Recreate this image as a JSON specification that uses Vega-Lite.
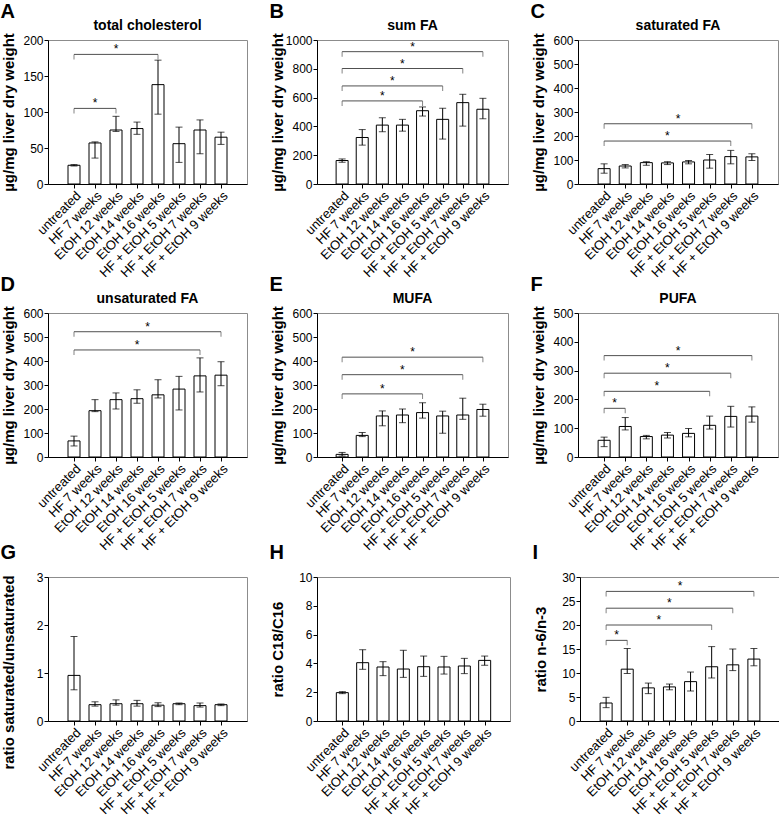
{
"$schema": "https://vega.github.io/schema/vega-lite/v6.json",
"padding": {"left": 0, "top": 2, "right": 0, "bottom": 0},
"background": "white",
"datasets": {
"bars": [
{"p":"A","i":0,"v":26,"lo":25,"hi":27},{"p":"A","i":1,"v":57,"lo":36,"hi":58.5},{"p":"A","i":2,"v":75,"lo":73,"hi":94},{"p":"A","i":3,"v":77,"lo":69,"hi":86},{"p":"A","i":4,"v":138,"lo":97,"hi":172},{"p":"A","i":5,"v":56,"lo":30,"hi":79},{"p":"A","i":6,"v":75,"lo":42,"hi":89},{"p":"A","i":7,"v":65,"lo":55,"hi":72},
{"p":"B","i":0,"v":163,"lo":151,"hi":174},{"p":"B","i":1,"v":323,"lo":270,"hi":378},{"p":"B","i":2,"v":409,"lo":363,"hi":460},{"p":"B","i":3,"v":409,"lo":367,"hi":449},{"p":"B","i":4,"v":509,"lo":472,"hi":535},{"p":"B","i":5,"v":449,"lo":312,"hi":526},{"p":"B","i":6,"v":565,"lo":402,"hi":623},{"p":"B","i":7,"v":519,"lo":453,"hi":595},
{"p":"C","i":0,"v":64,"lo":45,"hi":84},{"p":"C","i":1,"v":75,"lo":67,"hi":81},{"p":"C","i":2,"v":89,"lo":78,"hi":93},{"p":"C","i":3,"v":88,"lo":81,"hi":93},{"p":"C","i":4,"v":92,"lo":84,"hi":98},{"p":"C","i":5,"v":100,"lo":66,"hi":123},{"p":"C","i":6,"v":114,"lo":84,"hi":140},{"p":"C","i":7,"v":113,"lo":98,"hi":126},
{"p":"D","i":0,"v":67,"lo":46,"hi":87},{"p":"D","i":1,"v":193,"lo":189,"hi":239},{"p":"D","i":2,"v":239,"lo":200,"hi":267},{"p":"D","i":3,"v":243,"lo":224,"hi":280},{"p":"D","i":4,"v":259,"lo":246,"hi":322},{"p":"D","i":5,"v":283,"lo":196,"hi":336},{"p":"D","i":6,"v":338,"lo":271,"hi":413},{"p":"D","i":7,"v":341,"lo":297,"hi":397},
{"p":"E","i":0,"v":11,"lo":4,"hi":19},{"p":"E","i":1,"v":90,"lo":85,"hi":102},{"p":"E","i":2,"v":171,"lo":130,"hi":192},{"p":"E","i":3,"v":175,"lo":143,"hi":200},{"p":"E","i":4,"v":185,"lo":162,"hi":226},{"p":"E","i":5,"v":171,"lo":99,"hi":191},{"p":"E","i":6,"v":175,"lo":157,"hi":245},{"p":"E","i":7,"v":198,"lo":170,"hi":220},
{"p":"F","i":0,"v":58,"lo":36,"hi":69},{"p":"F","i":1,"v":106,"lo":94,"hi":137},{"p":"F","i":2,"v":71,"lo":63,"hi":75},{"p":"F","i":3,"v":76,"lo":66,"hi":85},{"p":"F","i":4,"v":82,"lo":70,"hi":99},{"p":"F","i":5,"v":110,"lo":97,"hi":142},{"p":"F","i":6,"v":141,"lo":104,"hi":176},{"p":"F","i":7,"v":142,"lo":121,"hi":174},
{"p":"G","i":0,"v":0.95,"lo":0.65,"hi":1.76},{"p":"G","i":1,"v":0.34,"lo":0.31,"hi":0.4},{"p":"G","i":2,"v":0.36,"lo":0.33,"hi":0.44},{"p":"G","i":3,"v":0.36,"lo":0.31,"hi":0.43},{"p":"G","i":4,"v":0.33,"lo":0.3,"hi":0.38},{"p":"G","i":5,"v":0.36,"lo":0.34,"hi":0.375},{"p":"G","i":6,"v":0.32,"lo":0.29,"hi":0.375},{"p":"G","i":7,"v":0.34,"lo":0.32,"hi":0.355},
{"p":"H","i":0,"v":1.97,"lo":1.9,"hi":2.04},{"p":"H","i":1,"v":4.05,"lo":3.59,"hi":4.95},{"p":"H","i":2,"v":3.75,"lo":3.15,"hi":4.12},{"p":"H","i":3,"v":3.61,"lo":3.03,"hi":4.91},{"p":"H","i":4,"v":3.77,"lo":3.1,"hi":4.51},{"p":"H","i":5,"v":3.75,"lo":3.26,"hi":4.49},{"p":"H","i":6,"v":3.82,"lo":3.29,"hi":4.35},{"p":"H","i":7,"v":4.21,"lo":3.87,"hi":4.51},
{"p":"I","i":0,"v":3.75,"lo":2.78,"hi":4.93},{"p":"I","i":1,"v":10.8,"lo":9.9,"hi":15.1},{"p":"I","i":2,"v":6.9,"lo":5.7,"hi":7.9},{"p":"I","i":3,"v":7.1,"lo":6.5,"hi":7.7},{"p":"I","i":4,"v":8.2,"lo":6.25,"hi":10.2},{"p":"I","i":5,"v":11.3,"lo":8.96,"hi":15.5},{"p":"I","i":6,"v":11.7,"lo":10.5,"hi":15.0},{"p":"I","i":7,"v":12.9,"lo":11.5,"hi":15.1}
],
"brk": [
{"p":"A","a":0,"b":2,"v":105},{"p":"A","a":0,"b":4,"v":180},
{"p":"B","a":0,"b":4,"v":577},{"p":"B","a":0,"b":5,"v":681},{"p":"B","a":0,"b":6,"v":802},{"p":"B","a":0,"b":7,"v":919},
{"p":"C","a":0,"b":6,"v":179},{"p":"C","a":0,"b":7,"v":251},
{"p":"D","a":0,"b":6,"v":446},{"p":"D","a":0,"b":7,"v":522},
{"p":"E","a":0,"b":4,"v":263},{"p":"E","a":0,"b":6,"v":343},{"p":"E","a":0,"b":7,"v":416},
{"p":"F","a":0,"b":1,"v":169},{"p":"F","a":0,"b":5,"v":228},{"p":"F","a":0,"b":6,"v":291},{"p":"F","a":0,"b":7,"v":352},
{"p":"I","a":0,"b":1,"v":16.8},{"p":"I","a":0,"b":5,"v":20.0},{"p":"I","a":0,"b":6,"v":23.5},{"p":"I","a":0,"b":7,"v":27.0}
]
},
"vconcat": [
{"spacing": 21, "hconcat": [
{"title":{"text":"A"},"vconcat":[{"width":199,"height":144,"title":{"text":"total cholesterol","anchor":"middle","frame":"group","fontSize":14,"offset":0},
"encoding":{"x":{"field":"i","type":"quantitative","scale":{"domain":[-1,8],"nice":false,"zero":false},"axis":{"values":[0,1,2,3,4,5,6,7],"labelExpr":"['untreated','HF 7 weeks','EtOH 12 weeks','EtOH 14 weeks','EtOH 16 weeks','HF + EtOH 5 weeks','HF + EtOH 7 weeks','HF + EtOH 9 weeks'][datum.value]","title":null}},"y":{"field":"v","type":"quantitative","scale":{"domain":[0,200],"nice":false},"axis":{"values":[0,50,100,150,200],"title":"µg/mg liver dry weight"}}},
"layer":[
{"data":{"name":"bars"},"transform":[{"filter":"datum.p==='A'"}],"mark":{"type":"bar","orient":"vertical","width":12,"fill":"white","stroke":"black","strokeWidth":1}},
{"data":{"name":"bars"},"transform":[{"filter":"datum.p==='A'"},{"fold":["lo","hi"],"as":["k","v"]}],"mark":{"type":"line","color":"black","strokeWidth":1},"encoding":{"detail":{"field":"i","type":"nominal"}}},
{"data":{"name":"bars"},"transform":[{"filter":"datum.p==='A'"},{"fold":["lo","hi"],"as":["k","v"]}],"mark":{"type":"tick","orient":"horizontal","size":7,"thickness":1,"color":"black"}},
{"data":{"name":"brk"},"transform":[{"filter":"datum.p==='A'"},{"fold":["a","b"],"as":["k","i"]}],"mark":{"type":"line","color":"#505050","strokeWidth":1},"encoding":{"detail":{"field":"b","type":"nominal"}}},
{"data":{"name":"brk"},"transform":[{"filter":"datum.p==='A'"},{"fold":["a","b"],"as":["k","i"]}],"mark":{"type":"tick","orient":"vertical","size":5,"thickness":1,"color":"#505050","yOffset":2.5}},
{"data":{"name":"brk"},"transform":[{"filter":"datum.p==='A'"},{"calculate":"(datum.a+datum.b)/2","as":"i"}],"mark":{"type":"text","text":"*","fontSize":12,"dy":-1,"baseline":"alphabetic","color":"black"}}
]}]},
{"title":{"text":"B"},"vconcat":[{"width":191,"height":144,"title":{"text":"sum FA","anchor":"middle","frame":"group","fontSize":14,"offset":0},
"encoding":{"x":{"field":"i","type":"quantitative","scale":{"domain":[-1,8],"nice":false,"zero":false},"axis":{"values":[0,1,2,3,4,5,6,7],"labelExpr":"['untreated','HF 7 weeks','EtOH 12 weeks','EtOH 14 weeks','EtOH 16 weeks','HF + EtOH 5 weeks','HF + EtOH 7 weeks','HF + EtOH 9 weeks'][datum.value]","title":null}},"y":{"field":"v","type":"quantitative","scale":{"domain":[0,1000],"nice":false},"axis":{"values":[0,200,400,600,800,1000],"format":"d","title":"µg/mg liver dry weight"}}},
"layer":[
{"data":{"name":"bars"},"transform":[{"filter":"datum.p==='B'"}],"mark":{"type":"bar","orient":"vertical","width":12,"fill":"white","stroke":"black","strokeWidth":1}},
{"data":{"name":"bars"},"transform":[{"filter":"datum.p==='B'"},{"fold":["lo","hi"],"as":["k","v"]}],"mark":{"type":"line","color":"black","strokeWidth":1},"encoding":{"detail":{"field":"i","type":"nominal"}}},
{"data":{"name":"bars"},"transform":[{"filter":"datum.p==='B'"},{"fold":["lo","hi"],"as":["k","v"]}],"mark":{"type":"tick","orient":"horizontal","size":7,"thickness":1,"color":"black"}},
{"data":{"name":"brk"},"transform":[{"filter":"datum.p==='B'"},{"fold":["a","b"],"as":["k","i"]}],"mark":{"type":"line","color":"#505050","strokeWidth":1},"encoding":{"detail":{"field":"b","type":"nominal"}}},
{"data":{"name":"brk"},"transform":[{"filter":"datum.p==='B'"},{"fold":["a","b"],"as":["k","i"]}],"mark":{"type":"tick","orient":"vertical","size":5,"thickness":1,"color":"#505050","yOffset":2.5}},
{"data":{"name":"brk"},"transform":[{"filter":"datum.p==='B'"},{"calculate":"(datum.a+datum.b)/2","as":"i"}],"mark":{"type":"text","text":"*","fontSize":12,"dy":-1,"baseline":"alphabetic","color":"black"}}
]}]},
{"title":{"text":"C"},"vconcat":[{"width":200,"height":144,"title":{"text":"saturated FA","anchor":"middle","frame":"group","fontSize":14,"offset":0},
"encoding":{"x":{"field":"i","type":"quantitative","scale":{"domain":[-1,8],"nice":false,"zero":false},"axis":{"values":[0,1,2,3,4,5,6,7],"labelExpr":"['untreated','HF 7 weeks','EtOH 12 weeks','EtOH 14 weeks','EtOH 16 weeks','HF + EtOH 5 weeks','HF + EtOH 7 weeks','HF + EtOH 9 weeks'][datum.value]","title":null}},"y":{"field":"v","type":"quantitative","scale":{"domain":[0,600],"nice":false},"axis":{"values":[0,100,200,300,400,500,600],"title":"µg/mg liver dry weight"}}},
"layer":[
{"data":{"name":"bars"},"transform":[{"filter":"datum.p==='C'"}],"mark":{"type":"bar","orient":"vertical","width":12,"fill":"white","stroke":"black","strokeWidth":1}},
{"data":{"name":"bars"},"transform":[{"filter":"datum.p==='C'"},{"fold":["lo","hi"],"as":["k","v"]}],"mark":{"type":"line","color":"black","strokeWidth":1},"encoding":{"detail":{"field":"i","type":"nominal"}}},
{"data":{"name":"bars"},"transform":[{"filter":"datum.p==='C'"},{"fold":["lo","hi"],"as":["k","v"]}],"mark":{"type":"tick","orient":"horizontal","size":7,"thickness":1,"color":"black"}},
{"data":{"name":"brk"},"transform":[{"filter":"datum.p==='C'"},{"fold":["a","b"],"as":["k","i"]}],"mark":{"type":"line","color":"#505050","strokeWidth":1},"encoding":{"detail":{"field":"b","type":"nominal"}}},
{"data":{"name":"brk"},"transform":[{"filter":"datum.p==='C'"},{"fold":["a","b"],"as":["k","i"]}],"mark":{"type":"tick","orient":"vertical","size":5,"thickness":1,"color":"#505050","yOffset":2.5}},
{"data":{"name":"brk"},"transform":[{"filter":"datum.p==='C'"},{"calculate":"(datum.a+datum.b)/2","as":"i"}],"mark":{"type":"text","text":"*","fontSize":12,"dy":-1,"baseline":"alphabetic","color":"black"}}
]}]}
]},
{"spacing": -12, "vconcat": [
{"spacing": 21, "hconcat": [
{"title":{"text":"D"},"vconcat":[{"width":199,"height":144,"title":{"text":"unsaturated FA","anchor":"middle","frame":"group","fontSize":14,"offset":0},
"encoding":{"x":{"field":"i","type":"quantitative","scale":{"domain":[-1,8],"nice":false,"zero":false},"axis":{"values":[0,1,2,3,4,5,6,7],"labelExpr":"['untreated','HF 7 weeks','EtOH 12 weeks','EtOH 14 weeks','EtOH 16 weeks','HF + EtOH 5 weeks','HF + EtOH 7 weeks','HF + EtOH 9 weeks'][datum.value]","title":null}},"y":{"field":"v","type":"quantitative","scale":{"domain":[0,600],"nice":false},"axis":{"values":[0,100,200,300,400,500,600],"title":"µg/mg liver dry weight"}}},
"layer":[
{"data":{"name":"bars"},"transform":[{"filter":"datum.p==='D'"}],"mark":{"type":"bar","orient":"vertical","width":12,"fill":"white","stroke":"black","strokeWidth":1}},
{"data":{"name":"bars"},"transform":[{"filter":"datum.p==='D'"},{"fold":["lo","hi"],"as":["k","v"]}],"mark":{"type":"line","color":"black","strokeWidth":1},"encoding":{"detail":{"field":"i","type":"nominal"}}},
{"data":{"name":"bars"},"transform":[{"filter":"datum.p==='D'"},{"fold":["lo","hi"],"as":["k","v"]}],"mark":{"type":"tick","orient":"horizontal","size":7,"thickness":1,"color":"black"}},
{"data":{"name":"brk"},"transform":[{"filter":"datum.p==='D'"},{"fold":["a","b"],"as":["k","i"]}],"mark":{"type":"line","color":"#505050","strokeWidth":1},"encoding":{"detail":{"field":"b","type":"nominal"}}},
{"data":{"name":"brk"},"transform":[{"filter":"datum.p==='D'"},{"fold":["a","b"],"as":["k","i"]}],"mark":{"type":"tick","orient":"vertical","size":5,"thickness":1,"color":"#505050","yOffset":2.5}},
{"data":{"name":"brk"},"transform":[{"filter":"datum.p==='D'"},{"calculate":"(datum.a+datum.b)/2","as":"i"}],"mark":{"type":"text","text":"*","fontSize":12,"dy":-1,"baseline":"alphabetic","color":"black"}}
]}]},
{"title":{"text":"E"},"vconcat":[{"width":191,"height":144,"title":{"text":"MUFA","anchor":"middle","frame":"group","fontSize":14,"offset":0},
"encoding":{"x":{"field":"i","type":"quantitative","scale":{"domain":[-1,8],"nice":false,"zero":false},"axis":{"values":[0,1,2,3,4,5,6,7],"labelExpr":"['untreated','HF 7 weeks','EtOH 12 weeks','EtOH 14 weeks','EtOH 16 weeks','HF + EtOH 5 weeks','HF + EtOH 7 weeks','HF + EtOH 9 weeks'][datum.value]","title":null}},"y":{"field":"v","type":"quantitative","scale":{"domain":[0,600],"nice":false},"axis":{"values":[0,100,200,300,400,500,600],"title":"µg/mg liver dry weight"}}},
"layer":[
{"data":{"name":"bars"},"transform":[{"filter":"datum.p==='E'"}],"mark":{"type":"bar","orient":"vertical","width":12,"fill":"white","stroke":"black","strokeWidth":1}},
{"data":{"name":"bars"},"transform":[{"filter":"datum.p==='E'"},{"fold":["lo","hi"],"as":["k","v"]}],"mark":{"type":"line","color":"black","strokeWidth":1},"encoding":{"detail":{"field":"i","type":"nominal"}}},
{"data":{"name":"bars"},"transform":[{"filter":"datum.p==='E'"},{"fold":["lo","hi"],"as":["k","v"]}],"mark":{"type":"tick","orient":"horizontal","size":7,"thickness":1,"color":"black"}},
{"data":{"name":"brk"},"transform":[{"filter":"datum.p==='E'"},{"fold":["a","b"],"as":["k","i"]}],"mark":{"type":"line","color":"#505050","strokeWidth":1},"encoding":{"detail":{"field":"b","type":"nominal"}}},
{"data":{"name":"brk"},"transform":[{"filter":"datum.p==='E'"},{"fold":["a","b"],"as":["k","i"]}],"mark":{"type":"tick","orient":"vertical","size":5,"thickness":1,"color":"#505050","yOffset":2.5}},
{"data":{"name":"brk"},"transform":[{"filter":"datum.p==='E'"},{"calculate":"(datum.a+datum.b)/2","as":"i"}],"mark":{"type":"text","text":"*","fontSize":12,"dy":-1,"baseline":"alphabetic","color":"black"}}
]}]},
{"title":{"text":"F"},"vconcat":[{"width":200,"height":144,"title":{"text":"PUFA","anchor":"middle","frame":"group","fontSize":14,"offset":0},
"encoding":{"x":{"field":"i","type":"quantitative","scale":{"domain":[-1,8],"nice":false,"zero":false},"axis":{"values":[0,1,2,3,4,5,6,7],"labelExpr":"['untreated','HF 7 weeks','EtOH 12 weeks','EtOH 14 weeks','EtOH 16 weeks','HF + EtOH 5 weeks','HF + EtOH 7 weeks','HF + EtOH 9 weeks'][datum.value]","title":null}},"y":{"field":"v","type":"quantitative","scale":{"domain":[0,500],"nice":false},"axis":{"values":[0,100,200,300,400,500],"title":"µg/mg liver dry weight"}}},
"layer":[
{"data":{"name":"bars"},"transform":[{"filter":"datum.p==='F'"}],"mark":{"type":"bar","orient":"vertical","width":12,"fill":"white","stroke":"black","strokeWidth":1}},
{"data":{"name":"bars"},"transform":[{"filter":"datum.p==='F'"},{"fold":["lo","hi"],"as":["k","v"]}],"mark":{"type":"line","color":"black","strokeWidth":1},"encoding":{"detail":{"field":"i","type":"nominal"}}},
{"data":{"name":"bars"},"transform":[{"filter":"datum.p==='F'"},{"fold":["lo","hi"],"as":["k","v"]}],"mark":{"type":"tick","orient":"horizontal","size":7,"thickness":1,"color":"black"}},
{"data":{"name":"brk"},"transform":[{"filter":"datum.p==='F'"},{"fold":["a","b"],"as":["k","i"]}],"mark":{"type":"line","color":"#505050","strokeWidth":1},"encoding":{"detail":{"field":"b","type":"nominal"}}},
{"data":{"name":"brk"},"transform":[{"filter":"datum.p==='F'"},{"fold":["a","b"],"as":["k","i"]}],"mark":{"type":"tick","orient":"vertical","size":5,"thickness":1,"color":"#505050","yOffset":2.5}},
{"data":{"name":"brk"},"transform":[{"filter":"datum.p==='F'"},{"calculate":"(datum.a+datum.b)/2","as":"i"}],"mark":{"type":"text","text":"*","fontSize":12,"dy":-1,"baseline":"alphabetic","color":"black"}}
]}]}
]},
{"spacing": 21, "hconcat": [
{"title":{"text":"G","offset":8},"vconcat":[{"width":199,"height":144,
"encoding":{"x":{"field":"i","type":"quantitative","scale":{"domain":[-1,8],"nice":false,"zero":false},"axis":{"values":[0,1,2,3,4,5,6,7],"labelExpr":"['untreated','HF 7 weeks','EtOH 12 weeks','EtOH 14 weeks','EtOH 16 weeks','HF + EtOH 5 weeks','HF + EtOH 7 weeks','HF + EtOH 9 weeks'][datum.value]","title":null}},"y":{"field":"v","type":"quantitative","scale":{"domain":[0,3],"nice":false},"axis":{"values":[0,1,2,3],"title":"ratio saturated/unsaturated","titleY":95}}},
"layer":[
{"data":{"name":"bars"},"transform":[{"filter":"datum.p==='G'"}],"mark":{"type":"bar","orient":"vertical","width":12,"fill":"white","stroke":"black","strokeWidth":1}},
{"data":{"name":"bars"},"transform":[{"filter":"datum.p==='G'"},{"fold":["lo","hi"],"as":["k","v"]}],"mark":{"type":"line","color":"black","strokeWidth":1},"encoding":{"detail":{"field":"i","type":"nominal"}}},
{"data":{"name":"bars"},"transform":[{"filter":"datum.p==='G'"},{"fold":["lo","hi"],"as":["k","v"]}],"mark":{"type":"tick","orient":"horizontal","size":7,"thickness":1,"color":"black"}}
]}]},
{"title":{"text":"H","offset":8},"vconcat":[{"width":193,"height":144,
"encoding":{"x":{"field":"i","type":"quantitative","scale":{"domain":[-1,8],"nice":false,"zero":false},"axis":{"values":[0,1,2,3,4,5,6,7],"labelExpr":"['untreated','HF 7 weeks','EtOH 12 weeks','EtOH 14 weeks','EtOH 16 weeks','HF + EtOH 5 weeks','HF + EtOH 7 weeks','HF + EtOH 9 weeks'][datum.value]","title":null}},"y":{"field":"v","type":"quantitative","scale":{"domain":[0,10],"nice":false},"axis":{"values":[0,2,4,6,8,10],"title":"ratio C18/C16"}}},
"layer":[
{"data":{"name":"bars"},"transform":[{"filter":"datum.p==='H'"}],"mark":{"type":"bar","orient":"vertical","width":12,"fill":"white","stroke":"black","strokeWidth":1}},
{"data":{"name":"bars"},"transform":[{"filter":"datum.p==='H'"},{"fold":["lo","hi"],"as":["k","v"]}],"mark":{"type":"line","color":"black","strokeWidth":1},"encoding":{"detail":{"field":"i","type":"nominal"}}},
{"data":{"name":"bars"},"transform":[{"filter":"datum.p==='H'"},{"fold":["lo","hi"],"as":["k","v"]}],"mark":{"type":"tick","orient":"horizontal","size":7,"thickness":1,"color":"black"}}
]}]},
{"title":{"text":"I","offset":8},"vconcat":[{"width":200,"height":144,
"encoding":{"x":{"field":"i","type":"quantitative","scale":{"domain":[-1,8],"nice":false,"zero":false},"axis":{"values":[0,1,2,3,4,5,6,7],"labelExpr":"['untreated','HF 7 weeks','EtOH 12 weeks','EtOH 14 weeks','EtOH 16 weeks','HF + EtOH 5 weeks','HF + EtOH 7 weeks','HF + EtOH 9 weeks'][datum.value]","title":null}},"y":{"field":"v","type":"quantitative","scale":{"domain":[0,30],"nice":false},"axis":{"values":[0,5,10,15,20,25,30],"title":"ratio n-6/n-3"}}},
"layer":[
{"data":{"name":"bars"},"transform":[{"filter":"datum.p==='I'"}],"mark":{"type":"bar","orient":"vertical","width":12,"fill":"white","stroke":"black","strokeWidth":1}},
{"data":{"name":"bars"},"transform":[{"filter":"datum.p==='I'"},{"fold":["lo","hi"],"as":["k","v"]}],"mark":{"type":"line","color":"black","strokeWidth":1},"encoding":{"detail":{"field":"i","type":"nominal"}}},
{"data":{"name":"bars"},"transform":[{"filter":"datum.p==='I'"},{"fold":["lo","hi"],"as":["k","v"]}],"mark":{"type":"tick","orient":"horizontal","size":7,"thickness":1,"color":"black"}},
{"data":{"name":"brk"},"transform":[{"filter":"datum.p==='I'"},{"fold":["a","b"],"as":["k","i"]}],"mark":{"type":"line","color":"#505050","strokeWidth":1},"encoding":{"detail":{"field":"b","type":"nominal"}}},
{"data":{"name":"brk"},"transform":[{"filter":"datum.p==='I'"},{"fold":["a","b"],"as":["k","i"]}],"mark":{"type":"tick","orient":"vertical","size":5,"thickness":1,"color":"#505050","yOffset":2.5}},
{"data":{"name":"brk"},"transform":[{"filter":"datum.p==='I'"},{"calculate":"(datum.a+datum.b)/2","as":"i"}],"mark":{"type":"text","text":"*","fontSize":12,"dy":-1,"baseline":"alphabetic","color":"black"}}
]}]}
]}
]}
],
"spacing": -6,
"config": {
"font": "Liberation Sans",
"view": {"stroke": "#8c8c8c", "strokeWidth": 1},
"axis": {"grid": false, "domainColor": "black", "tickColor": "black", "labelColor": "black", "titleColor": "black", "labelFontSize": 12, "tickSize": 4, "labelPadding": 1, "titleFontWeight": "bold", "titleFontSize": 15},
"axisY": {"minExtent": 31, "maxExtent": 31, "titlePadding": 1},
"axisBottom": {"labelAngle": -45, "labelOverlap": false, "labelFlush": false, "labelBound": false, "labelFontSize": 13},
"title": {"anchor": "start", "frame": "bounds", "fontSize": 20, "fontWeight": "bold", "color": "black", "offset": -4}
}
}
